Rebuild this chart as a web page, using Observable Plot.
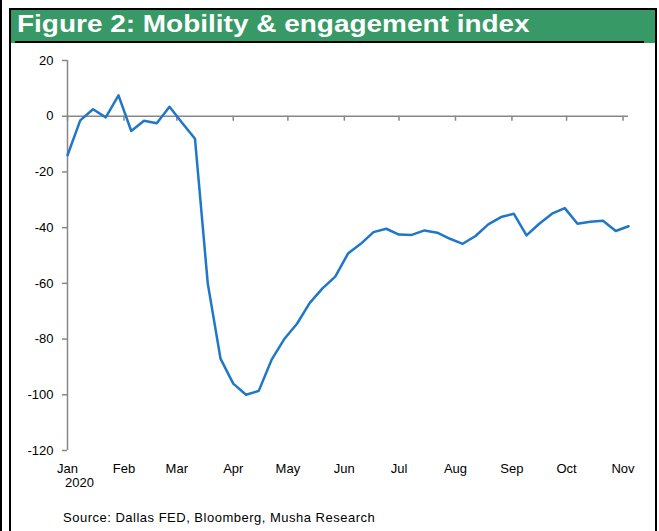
<!DOCTYPE html>
<html>
<head>
<meta charset="utf-8">
<script src="https://cdn.jsdelivr.net/npm/d3@7"></script>
<script src="https://cdn.jsdelivr.net/npm/@observablehq/plot@0.6"></script>
<style>
html, body { margin: 0; padding: 0; background: #fff; }
#wrap { position: relative; width: 659px; height: 531px; overflow: hidden; font-family: "Liberation Sans", Arial, sans-serif; }
.bar-left { position: absolute; left: 0; top: 0; width: 2px; height: 531px; background: #000; }
.frame-l { position: absolute; left: 9px; top: 8px; width: 2px; height: 523px; background: #000; }
.frame-r { position: absolute; left: 655px; top: 8px; width: 2px; height: 523px; background: #000; }
.title-box { position: absolute; left: 11px; top: 8px; width: 644px; height: 33px; background: #379966; border-top: 2px solid #000; }
.title-rule { position: absolute; left: 15px; top: 41px; width: 629px; height: 2px; background: #000; }
#title { position: absolute; left: 17px; top: 12px; line-height: 24px; font-size: 24px; font-weight: bold; color: #fff; white-space: nowrap; transform: scaleX(1.165); transform-origin: 0 0; }
#chart { position: absolute; left: 0; top: 44px; }
#source { position: absolute; left: 63px; top: 511px; line-height: 13px; font-size: 13px; color: #000; white-space: nowrap; letter-spacing: 0.5px; }
</style>
</head>
<body>
<div id="wrap">
  <div class="bar-left"></div>
  <div class="title-box"></div>
  <div class="title-rule"></div>
  <div class="frame-l"></div>
  <div class="frame-r"></div>
  <div id="title"></div>
  <div id="chart"></div>
  <div id="source"></div>
</div>
<script>
const titleText = "Figure 2: Mobility & engagement index";
const sourceText = "Source: Dallas FED, Bloomberg, Musha Research";
const yearLabel = "2020";

const dates = [
  "2020-01-01","2020-01-08","2020-01-15","2020-01-22","2020-01-29",
  "2020-02-05","2020-02-12","2020-02-19","2020-02-26",
  "2020-03-04","2020-03-11","2020-03-18","2020-03-25",
  "2020-04-01","2020-04-08","2020-04-15","2020-04-22","2020-04-29",
  "2020-05-06","2020-05-13","2020-05-20","2020-05-27",
  "2020-06-03","2020-06-10","2020-06-17","2020-06-24",
  "2020-07-01","2020-07-08","2020-07-15","2020-07-22","2020-07-29",
  "2020-08-05","2020-08-12","2020-08-19","2020-08-26",
  "2020-09-02","2020-09-09","2020-09-16","2020-09-23","2020-09-30",
  "2020-10-07","2020-10-14","2020-10-21","2020-10-28",
  "2020-11-04"
];
const values = [
  -14, -1.5, 2.5, -0.4, 7.5,
  -5.3, -1.6, -2.5, 3.4,
  -2.4, -8.1, -60, -87,
  -96, -100, -98.6, -87.5, -80,
  -74.5, -67, -61.8, -57.6,
  -49.3, -45.8, -41.6, -40.4,
  -42.5, -42.6, -41, -41.8, -44,
  -45.8, -43, -38.8, -36.2,
  -35, -42.8, -38.6, -35, -33,
  -38.6, -37.9, -37.5, -41.2,
  -39.5
];
const monthTicks = [
  "2020-01-01","2020-02-01","2020-03-01","2020-04-01","2020-05-01","2020-06-01",
  "2020-07-01","2020-08-01","2020-09-01","2020-10-01","2020-11-01"
];
const yTicks = [20, 0, -20, -40, -60, -80, -100, -120];
const yDomain = [-120, 20];

document.getElementById("title").textContent = titleText;
document.getElementById("source").textContent = sourceText;

const parse = d3.utcParse("%Y-%m-%d");
const data = dates.map((d, i) => ({date: parse(d), value: values[i]}));
const months = monthTicks.map(parse);
const xDomain = [data[0].date, data[data.length - 1].date];

const axisGray = "#878787";
const chart = Plot.plot({
  width: 659,
  height: 487,
  marginLeft: 67,
  marginRight: 31,
  marginTop: 16,
  marginBottom: 81,
  style: {fontFamily: "'Liberation Sans', Arial, sans-serif", fontSize: "13px", background: "transparent", color: "#000"},
  x: {type: "utc", domain: xDomain},
  y: {domain: yDomain},
  marks: [
    Plot.ruleX([xDomain[0]], {stroke: axisGray, strokeWidth: 1.5}),
    Plot.ruleY([0], {stroke: axisGray, strokeWidth: 1.5}),
    Plot.ruleX(months, {x: d => d, y1: 0, y2: 0, insetBottom: -5, stroke: axisGray, strokeWidth: 1.5}),
    Plot.line(data, {x: "date", y: "value", stroke: "#2077c7", strokeWidth: 2.5}),
    Plot.axisY({ticks: yTicks, tickFormat: d => String(d), tickSize: 5, tickPadding: 9, stroke: axisGray, strokeWidth: 1.5, fill: "#000", fontSize: 13, label: null}),
    Plot.axisX({ticks: months, tickFormat: d3.utcFormat("%b"), tickSize: 0, tickPadding: 13, fill: "#000", fontSize: 13, label: null}),
    Plot.text([{date: months[0], label: yearLabel}], {x: "date", text: "label", frameAnchor: "bottom", dy: 36, dx: 12, fontSize: 13, fill: "#000"})
  ]
});
document.getElementById("chart").appendChild(chart);
</script>
</body>
</html>
